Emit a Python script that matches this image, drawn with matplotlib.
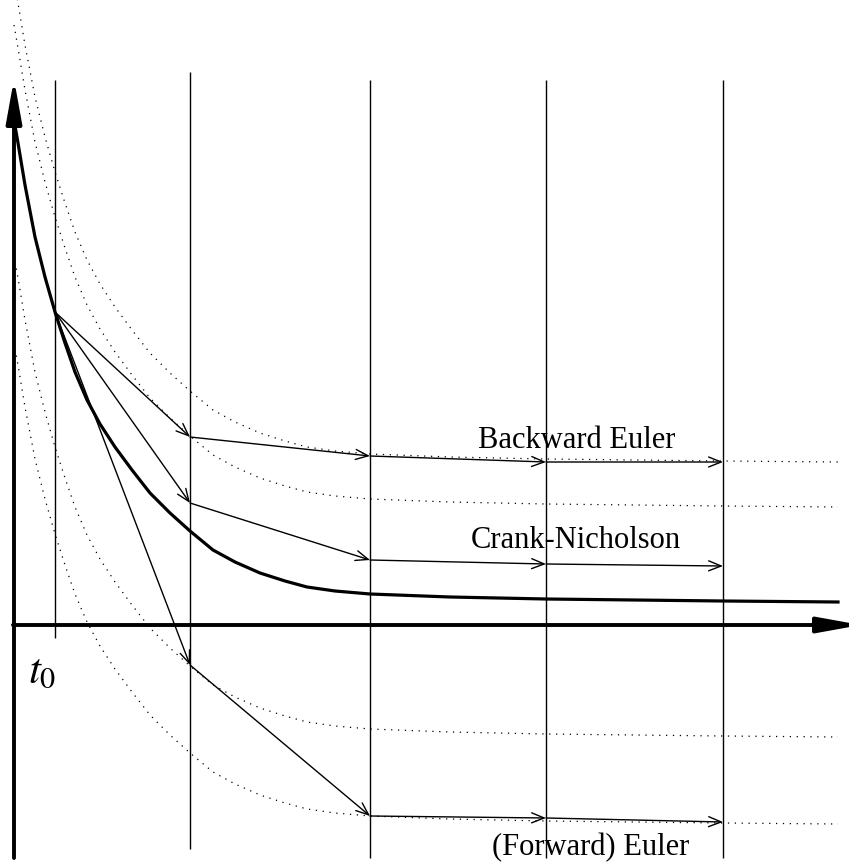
import numpy as np
import matplotlib
matplotlib.use("Agg")
import matplotlib.pyplot as plt

plt.rcParams['mathtext.fontset'] = 'stix'

# exact solution (thick curve), pixel-like diagram coordinates
exact_x = np.array([14, 18, 25, 35, 45, 55, 65, 75, 87, 100, 115, 132, 150, 170, 190,
                    213, 235, 260, 285, 307, 335, 370, 450, 546, 723, 838])
exact_y = np.array([120, 143, 185, 237, 277, 312, 343, 372, 400, 424, 447, 470, 493, 513, 531,
                    550, 562, 573, 581, 587, 591, 594, 597, 599, 601, 602])

# neighbouring solution curves (dotted) = exact curve shifted vertically
dotted_offsets = [-140, -95, 135, 222]

# time steps t0..t4
step_x = [55, 190, 370, 546, 723]
step_top = [80, 72, 80, 80, 80]
step_bottom = [638, 849, 858, 858, 858]

# start value at t0
y0 = 312

# numerical solutions at t1..t4
be_y = [437, 456, 462, 462]   # Backward Euler
cn_y = [503, 560, 564, 566]   # Crank-Nicholson
fe_y = [665, 816, 818, 822]   # (Forward) Euler

fig = plt.figure(figsize=(8.49, 8.63), dpi=100)
ax = fig.add_axes([0, 0, 1, 1])
ax.set_xlim(0, 849)
ax.set_ylim(863, 0)
ax.axis('off')

# dotted solution family
for off in dotted_offsets:
    ax.plot(exact_x, exact_y + off, color='black', lw=0.9,
            linestyle=(0, (1, 4.5)), zorder=1)

# vertical step lines
ax.vlines(step_x, step_top, step_bottom, color='black', lw=1.0, zorder=2)

# axes with filled arrowheads
axis_style = '-|>,head_length=2.6,head_width=0.47'
ax.annotate('', xy=(14, 79), xytext=(14, 858), annotation_clip=False,
            arrowprops=dict(arrowstyle=axis_style, mutation_scale=10, lw=2.8,
                            color='black', shrinkA=0, shrinkB=0), zorder=3)
ax.annotate('', xy=(861, 625), xytext=(13, 625), annotation_clip=False,
            arrowprops=dict(arrowstyle=axis_style, mutation_scale=10, lw=2.8,
                            color='black', shrinkA=0, shrinkB=0), zorder=3)

# exact solution
ax.plot(exact_x, exact_y, color='black', lw=2.3, zorder=4)


def step_arrow(p, q):
    ax.annotate('', xy=q, xytext=p,
                arrowprops=dict(arrowstyle='->,head_length=0.9,head_width=0.36',
                                mutation_scale=10, lw=1.0, color='black',
                                shrinkA=0, shrinkB=0), zorder=5)


for ys in (be_y, cn_y, fe_y):
    pts = [(step_x[0], y0)] + list(zip(step_x[1:], ys))
    for p, q in zip(pts[:-1], pts[1:]):
        step_arrow(p, q)

# labels
ax.text(478, 448, 'Backward Euler', fontsize=22, family='Liberation Serif',
        ha='left', va='baseline')
ax.text(471, 548, 'Crank-Nicholson', fontsize=22, family='Liberation Serif',
        ha='left', va='baseline')
ax.text(492, 855, '(Forward) Euler', fontsize=22, family='Liberation Serif',
        ha='left', va='baseline')
ax.text(28, 682, r'$t_0$', fontsize=31, ha='left', va='baseline')

fig.savefig('out.png', dpi=100)
